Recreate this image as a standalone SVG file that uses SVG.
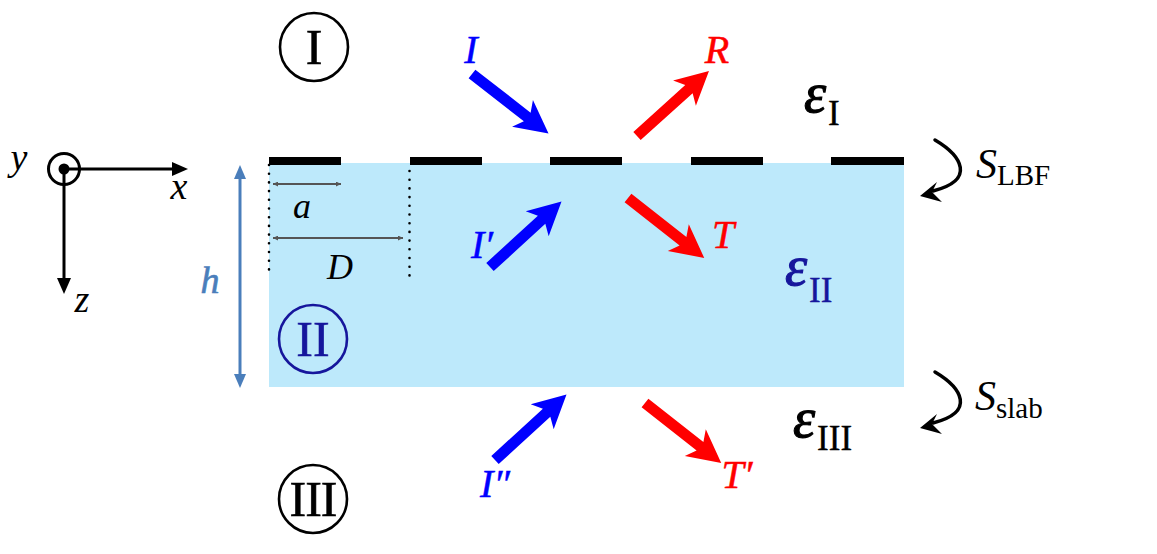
<svg xmlns="http://www.w3.org/2000/svg" xmlns:xlink="http://www.w3.org/1999/xlink" width="1157" height="554" viewBox="0 0 1157 554" font-family="'Liberation Serif', 'Times New Roman', serif">
<style>
text{font-family:"Liberation Serif","Times New Roman",serif}
.it{font-style:italic}
.blk{fill:#000}
.blue{fill:#0000ff}
.red{fill:#ff0000}
.navy{fill:#16169c}
.num{font-size:50px;text-anchor:middle;stroke-width:0.6}
.lbl{font-size:40px}
.eps{font-size:56px;font-style:italic;stroke-width:1.2}
.sub{font-size:35px;stroke-width:0.4}
.dim{stroke:#555;stroke-width:2;fill:none}
.dots{stroke:#000;stroke-width:2.6;stroke-linecap:round;stroke-dasharray:0 8.7;fill:none}
</style>
<defs>
<path id="arr" d="M0,-5.5 L70,-5.5 L64,-17 L97,0 L64,17 L70,5.5 L0,5.5 Z"/>
<marker id="gh" viewBox="0 0 10 10" refX="10" refY="5" markerWidth="5" markerHeight="5" orient="auto-start-reverse" markerUnits="userSpaceOnUse">
<path d="M0,0 L10,5 L0,10 Z" fill="#555"/>
</marker>
<g id="curv">
<path d="M935,140 C962,156 976,180 933,191" fill="none" stroke="#000" stroke-width="3.5" stroke-linecap="round"/>
<path d="M920,196 L937,182 L932,192 L942,202 Z" fill="#000"/>
</g>
</defs>

<g id="slab">
<rect x="269" y="163" width="635" height="224" fill="#bde9fb"/>
</g>
<g id="grating" fill="#000">
<rect x="269" y="157" width="72" height="8"/>
<rect x="410" y="157" width="72" height="8"/>
<rect x="550" y="157" width="72" height="8"/>
<rect x="691" y="157" width="72" height="8"/>
<rect x="831" y="157" width="73" height="8"/>
</g>

<g id="axes">
<circle cx="64" cy="169" r="15.5" fill="none" stroke="#000" stroke-width="3"/>
<circle cx="64" cy="169" r="5.5" fill="#000"/>
<line x1="64" y1="169" x2="174" y2="169" stroke="#000" stroke-width="3"/>
<polygon points="188,169 172,162 172,176" fill="#000"/>
<line x1="64" y1="169" x2="64" y2="280" stroke="#000" stroke-width="3"/>
<polygon points="64,294 57,278 71,278" fill="#000"/>
<text class="it blk" x="19" y="170" font-size="38" text-anchor="middle">y</text>
<text class="it blk" x="179" y="199" font-size="38" text-anchor="middle">x</text>
<text class="it blk" x="82" y="312" font-size="38" text-anchor="middle">z</text>
</g>

<g id="height">
<line x1="240" y1="176" x2="240" y2="377" stroke="#4a7ebb" stroke-width="3"/>
<polygon points="240,165 234,179 246,179" fill="#4a7ebb"/>
<polygon points="240,388 234,374 246,374" fill="#4a7ebb"/>
<text class="it" x="210" y="293" font-size="38" text-anchor="middle" fill="#4a7ebb" stroke="#4a7ebb" stroke-width="0.6">h</text>
</g>

<g id="period">
<line class="dots" x1="269" y1="165" x2="269" y2="274"/>
<line class="dots" x1="409.5" y1="171" x2="409.5" y2="280"/>
<line class="dim" x1="273" y1="184" x2="341" y2="184" marker-start="url(#gh)" marker-end="url(#gh)"/>
<line class="dim" x1="273" y1="238" x2="403" y2="238" marker-start="url(#gh)" marker-end="url(#gh)"/>
<text class="it blk" x="302" y="218" font-size="36" text-anchor="middle">a</text>
<text class="it blk" x="340" y="279" font-size="36" text-anchor="middle">D</text>
</g>

<g id="region-I">
<circle cx="314" cy="47" r="34" fill="none" stroke="#000" stroke-width="2.6"/>
<text class="num blk" stroke="#000" x="314" y="64">I</text>
</g>
<g id="region-II">
<circle cx="313" cy="339" r="34" fill="none" stroke="#16169c" stroke-width="2.6"/>
<text class="num navy" stroke="#16169c" x="313" y="356">II</text>
</g>
<g id="region-III">
<circle cx="313" cy="499" r="34" fill="none" stroke="#000" stroke-width="2.6"/>
<text class="num blk" stroke="#000" x="313" y="516" letter-spacing="-1">III</text>
</g>

<g id="connectors">
<use xlink:href="#arr" href="#arr" class="blue" transform="translate(472,74) rotate(37.9)"/>
<use xlink:href="#arr" href="#arr" class="red" transform="translate(637,136) rotate(-42.1)"/>
<use xlink:href="#arr" href="#arr" class="blue" transform="translate(490,267) rotate(-42.5)"/>
<use xlink:href="#arr" href="#arr" class="red" transform="translate(628,198) rotate(38.2)"/>
<use xlink:href="#arr" href="#arr" class="blue" transform="translate(495,460) rotate(-42.5)"/>
<use xlink:href="#arr" href="#arr" class="red" transform="translate(645,403) rotate(38.2)"/>
<use xlink:href="#curv" href="#curv"/>
<use xlink:href="#curv" href="#curv" transform="translate(0,232)"/>
</g>

<g id="wave-labels" stroke-width="0.5">
<text class="it lbl blue" stroke="#0000ff" x="471" y="63" text-anchor="middle">I</text>
<text class="it lbl red" stroke="#ff0000" x="717" y="63" text-anchor="middle">R</text>
<text class="it lbl blue" stroke="#0000ff" x="482" y="258" text-anchor="middle">I′</text>
<text class="it lbl red" stroke="#ff0000" x="723" y="248" text-anchor="middle">T</text>
<text class="it lbl blue" stroke="#0000ff" x="495" y="497" text-anchor="middle">I″</text>
<text class="it lbl red" stroke="#ff0000" x="737" y="488" text-anchor="middle">T′</text>
</g>

<g id="eps-I">
<text class="blk" stroke="#000" x="804" y="112"><tspan class="eps">ε</tspan><tspan class="sub" dx="2" dy="13">I</tspan></text>
</g>
<g id="eps-II">
<text class="navy" stroke="#16169c" x="785" y="285"><tspan class="eps">ε</tspan><tspan class="sub" dx="2" dy="17">II</tspan></text>
</g>
<g id="eps-III">
<text class="blk" stroke="#000" x="793" y="437"><tspan class="eps">ε</tspan><tspan class="sub" dx="2" dy="13">III</tspan></text>
</g>

<g id="S-LBF">
<text class="blk" x="976" y="178"><tspan font-style="italic" font-size="42">S</tspan><tspan font-size="29" dy="7">LBF</tspan></text>
</g>
<g id="S-slab">
<text class="blk" x="975" y="410"><tspan font-style="italic" font-size="42">S</tspan><tspan font-size="29" dy="8">slab</tspan></text>
</g>
</svg>
